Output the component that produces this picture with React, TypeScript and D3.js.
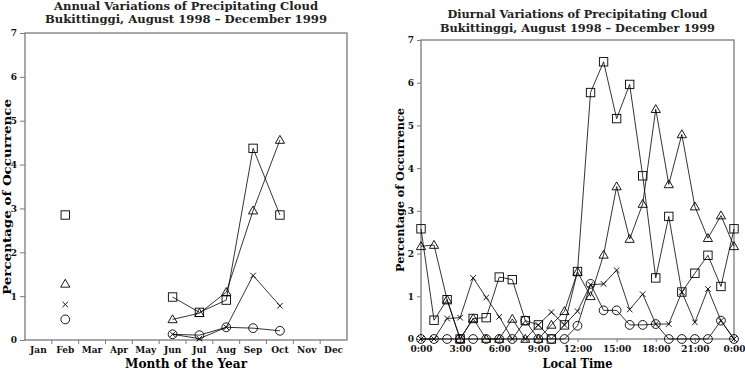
import { useRef, useEffect } from 'react';
import * as d3 from 'd3';

const W = 745;
const H = 382;

// Annual panel (month of year), null = no data
const months = ["Jan", "Feb", "Mar", "Apr", "May", "Jun", "Jul", "Aug", "Sep", "Oct", "Nov", "Dec"];
const annualSquare = [null, 2.85, null, null, null, 0.98, 0.63, 0.91, 4.37, 2.85, null, null];
const annualTriangle = [null, 1.28, null, null, null, 0.47, 0.61, 1.09, 2.95, 4.56, null, null];
const annualCross = [null, 0.81, null, null, null, 0.13, 0.03, 0.29, 1.47, 0.78, null, null];
const annualCircle = [null, 0.47, null, null, null, 0.13, 0.11, 0.29, 0.27, 0.21, null, null];

// Diurnal panel (local hour 0..24)
const hours = [0, 1, 2, 3, 4, 5, 6, 7, 8, 9, 10, 11, 12, 13, 14, 15, 16, 17, 18, 19, 20, 21, 22, 23, 24];
const diurnalSquare = [2.58, 0.44, 0.92, 0, 0.48, 0.5, 1.45, 1.39, 0.43, 0.33, 0, 0.33, 1.58, 5.77, 6.49, 5.16, 5.96, 3.82, 1.43, 2.87, 1.1, 1.54, 1.96, 1.23, 2.58];
const diurnalTriangle = [2.17, 2.2, 0.92, 0, 0.48, 0, 0, 0.47, 0, 0, 0.33, 0.65, 1.57, 1.0, 1.97, 3.57, 2.34, 3.16, 5.38, 3.62, 4.79, 3.1, 2.36, 2.89, 2.17];
const diurnalCross = [0, 0, 0.48, 0.5, 1.43, 0.97, 0.52, 0, 0, 0.33, 0.63, 0.33, 0.65, 1.27, 1.29, 1.61, 0.69, 1.05, 0.35, 0.35, 1.1, 0.39, 1.17, 0.43, 0];
const diurnalCircle = [0, 0, 0, 0, 0, 0, 0, 0, 0.43, 0, 0, 0, 0.31, 1.29, 0.67, 0.67, 0.33, 0.33, 0.35, 0, 0, 0, 0, 0.43, 0];
const hourTicks = [0, 3, 6, 9, 12, 15, 18, 21, 24];
const hourLabels = ["0:00", "3:00", "6:00", "9:00", "12:00", "15:00", "18:00", "21:00", "0:00"];

const yTicks = [0, 1, 2, 3, 4, 5, 6, 7];

const FONT = "'DejaVu Serif', 'Liberation Serif', serif";
const FRAME = "#7a7a7a";

function drawMarker(g, kind, x, y) {
  if (x == null || y == null) return;
  const m = g.append("g").attr("transform", `translate(${x},${y})`)
    .attr("fill", "none").attr("stroke", "#000").attr("stroke-width", 0.9);
  if (kind === "square") {
    m.append("rect").attr("x", -4.2).attr("y", -4.2).attr("width", 8.4).attr("height", 8.4);
  } else if (kind === "triangle") {
    m.append("path").attr("d", "M0,-4.6L4.6,3.3L-4.6,3.3Z");
  } else if (kind === "circle") {
    m.append("circle").attr("r", 4.4);
  } else {
    m.append("path").attr("d", "M-2.8,-2.8L2.8,2.8M-2.8,2.8L2.8,-2.8");
  }
}

function App() {
  const svgRef = useRef();

  useEffect(() => {
    const svg = d3.select(svgRef.current);
    svg.selectAll("*").remove();

    const series = [
      ["square", annualSquare, diurnalSquare],
      ["triangle", annualTriangle, diurnalTriangle],
      ["cross", annualCross, diurnalCross],
      ["circle", annualCircle, diurnalCircle],
    ];

    const title = (cx, y1, y2, l1, l2, line1) => {
      const t = svg.append("g").attr("font-family", FONT).attr("font-size", 11.5)
        .attr("font-weight", "bold").attr("text-anchor", "middle").attr("fill", "#222");
      t.append("text").attr("x", cx).attr("y", y1)
        .attr("textLength", l1).attr("lengthAdjust", "spacingAndGlyphs").text(line1);
      t.append("text").attr("x", cx).attr("y", y2)
        .attr("textLength", l2).attr("lengthAdjust", "spacingAndGlyphs")
        .text("Bukittinggi, August 1998 \u2013 December 1999");
    };

    const styleAxis = (a) => {
      a.select(".domain").remove();
      a.selectAll("line").attr("stroke", FRAME);
      a.selectAll("text").attr("font-family", FONT).attr("font-size", 9)
        .attr("font-weight", "bold").attr("fill", "#111");
    };

    // ---------- Left: annual ----------
    {
      const L = { x0: 25, x1: 347, y0: 33, y1: 340 };
      const x = d3.scaleBand().domain(months).range([L.x0, L.x1]);
      const y = d3.scaleLinear().domain([0, 7]).range([L.y1, L.y0]);
      const cx = m => x(m) + x.bandwidth() / 2;

      title((L.x0 + L.x1) / 2, 10, 23, 264, 282, "Annual Variations of Precipitating Cloud");

      styleAxis(svg.append("g").attr("transform", `translate(${L.x0},0)`)
        .call(d3.axisLeft(y).tickValues(yTicks).tickSize(5).tickPadding(3).tickFormat(d3.format("d"))));

      // x axis: labels at band centres, ticks on band boundaries
      styleAxis(svg.append("g").attr("transform", `translate(0,${L.y1})`)
        .call(d3.axisBottom(x).tickSize(0).tickPadding(7)));
      svg.append("g").selectAll("line")
        .data(months.slice(1))
        .enter().append("line")
        .attr("x1", m => x(m)).attr("x2", m => x(m))
        .attr("y1", L.y1).attr("y2", L.y1 + 4)
        .attr("stroke", FRAME);

      svg.append("rect").attr("x", L.x0).attr("y", L.y0)
        .attr("width", L.x1 - L.x0).attr("height", L.y1 - L.y0)
        .attr("fill", "none").attr("stroke", FRAME).attr("stroke-width", 1.3);

      svg.append("text").attr("x", (L.x0 + L.x1) / 2).attr("y", 368)
        .attr("text-anchor", "middle").attr("font-family", FONT).attr("font-size", 12.5)
        .attr("font-weight", "bold").attr("textLength", 122).attr("lengthAdjust", "spacingAndGlyphs")
        .text("Month of the Year");
      svg.append("text").attr("transform", `translate(11,197) rotate(-90)`)
        .attr("text-anchor", "middle").attr("font-family", FONT).attr("font-size", 11)
        .attr("font-weight", "bold").attr("textLength", 196).attr("lengthAdjust", "spacingAndGlyphs")
        .text("Percentage of Occurrence");

      const line = d3.line().defined(d => d[1] != null).x(d => cx(d[0])).y(d => y(d[1]));
      series.forEach(([kind, vals]) => {
        const pts = months.map((m, i) => [m, vals[i]]);
        svg.append("path").attr("d", line(pts)).attr("fill", "none")
          .attr("stroke", "#000").attr("stroke-width", 0.8);
        const mg = svg.append("g");
        pts.forEach(p => { if (p[1] != null) drawMarker(mg, kind, cx(p[0]), y(p[1])); });
      });
    }

    // ---------- Right: diurnal ----------
    {
      const R = { x0: 421, x1: 734, y0: 40, y1: 339 };
      const x = d3.scaleLinear().domain([0, 24]).range([R.x0, R.x1]);
      const y = d3.scaleLinear().domain([0, 7]).range([R.y1, R.y0]);

      title((R.x0 + R.x1) / 2, 18, 32, 260, 275, "Diurnal Variations of Precipitating Cloud");

      styleAxis(svg.append("g").attr("transform", `translate(${R.x0},0)`)
        .call(d3.axisLeft(y).tickValues(yTicks).tickSize(4).tickPadding(3).tickFormat(d3.format("d"))));

      styleAxis(svg.append("g").attr("transform", `translate(0,${R.y1})`)
        .call(d3.axisBottom(x).tickValues(hourTicks).tickSize(3).tickPadding(4)
          .tickFormat((d, i) => hourLabels[i])));

      svg.append("rect").attr("x", R.x0).attr("y", R.y0)
        .attr("width", R.x1 - R.x0).attr("height", R.y1 - R.y0)
        .attr("fill", "none").attr("stroke", FRAME).attr("stroke-width", 1.3);

      svg.append("text").attr("x", (R.x0 + R.x1) / 2).attr("y", 368)
        .attr("text-anchor", "middle").attr("font-family", FONT).attr("font-size", 12.5)
        .attr("font-weight", "bold").attr("textLength", 70).attr("lengthAdjust", "spacingAndGlyphs")
        .text("Local Time");
      svg.append("text").attr("transform", `translate(404,190) rotate(-90)`)
        .attr("text-anchor", "middle").attr("font-family", FONT).attr("font-size", 11.5)
        .attr("font-weight", "bold").attr("textLength", 164).attr("lengthAdjust", "spacingAndGlyphs")
        .text("Percentage of Occurrence");

      const line = d3.line().x(d => x(d[0])).y(d => y(d[1]));
      series.forEach(([kind, , vals]) => {
        const pts = hours.map((h, i) => [h, vals[i]]);
        svg.append("path").attr("d", line(pts)).attr("fill", "none")
          .attr("stroke", "#000").attr("stroke-width", 0.8);
        const mg = svg.append("g");
        pts.forEach(p => drawMarker(mg, kind, x(p[0]), y(p[1])));
      });
    }
  }, []);

  return (
    <svg ref={svgRef} width={W} height={H}
      style={{ position: "absolute", left: 0, top: 0, background: "#fff" }} />
  );
}

export default App;
